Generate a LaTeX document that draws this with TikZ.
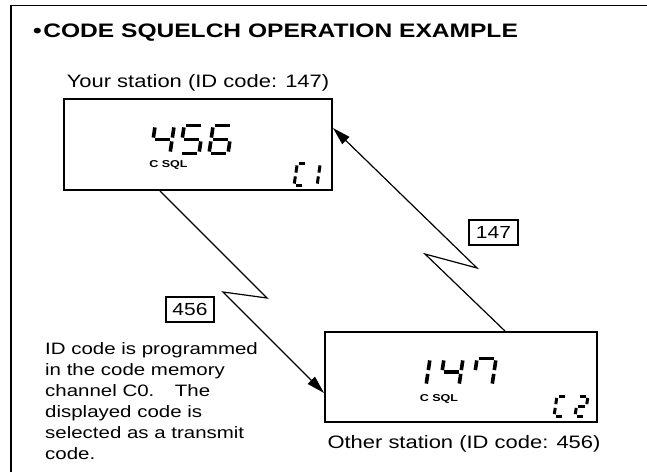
\documentclass[tikz,border=0pt]{standalone}
\usepackage{fontspec}
\setmainfont{Liberation Sans}
\usetikzlibrary{arrows.meta,calc}
\newcommand\wx[2]{\scalebox{#1}[1]{#2}}
% seven-segment LCD digits
\newcommand\lcdA{\draw[lcdseg] (\segG,-\segH) -- ({\segW-\segG},-\segH);}
\newcommand\lcdB{\draw[lcdseg] (\segW,{-\segH+\segG}) -- (\segW,{-\segH/2-\segG});}
\newcommand\lcdC{\draw[lcdseg] (\segW,{-\segH/2+\segG}) -- (\segW,-\segG);}
\newcommand\lcdD{\draw[lcdseg] (\segG,0) -- ({\segW-\segG},0);}
\newcommand\lcdE{\draw[lcdseg] (0,-\segG) -- (0,{-\segH/2+\segG});}
\newcommand\lcdF{\draw[lcdseg] (0,{-\segH/2-\segG}) -- (0,{-\segH+\segG});}
\newcommand\lcdG{\draw[lcdseg] (\segG,-\segH/2) -- ({\segW-\segG},-\segH/2);}
\newcommand\lcd[6]{%
  \begin{scope}[shift={(#1,#2)},xslant=0.15,lcdseg/.style={line width=#6pt,line cap=butt}]
    \def\segW{#3}\def\segH{#4}\def\segG{1.9}
    \foreach \s in {#5}{\csname lcd\s\endcsname}
  \end{scope}}
\begin{document}
\begin{tikzpicture}[x=1pt,y=-1pt,
  stbox/.style={draw,line width=1.9pt,inner sep=0pt},
  codebox/.style={draw,line width=1.2pt,inner sep=0pt,font=\fontsize{17.5}{20}\selectfont},
  conn/.style={line width=1.2pt,-{Triangle[length=18pt,width=10pt]},line join=miter},
  lbl/.style={inner sep=0pt,font=\fontsize{18}{21}\selectfont},
  csql/.style={inner sep=0pt,font=\bfseries\fontsize{10}{11}\selectfont},
  frame/.style={line width=1.5pt}]
\useasboundingbox (0,0) rectangle (647,472);
\draw[frame] (11,472) -- (11,5.5) -- (647,5.5);
% title
\node[anchor=base west,inner sep=0pt,font=\bfseries\fontsize{19.5}{22}\selectfont] (title) at (33,37)
  {\wx{1.26}{•\kern1.2pt CODE SQUELCH OPERATION EXAMPLE}};
% stations
\node[stbox,minimum width=268pt,minimum height=91pt] (box1) at (198,144.5) {};
\node[stbox,minimum width=272pt,minimum height=90pt] (box2) at (461,377) {};
\node[lbl,anchor=base] (your) at (198,87) {\wx{1.22}{Your station (ID code: 147)}};
\node[lbl,anchor=base] (other) at (464,448) {\wx{1.22}{Other station (ID code: 456)}};
% displays
\lcd{151}{153.5}{19}{28}{F,G,B,C}{3.6}
\lcd{180}{153.5}{19}{28}{A,F,G,C,D}{3.6}
\lcd{209}{153.5}{19}{28}{A,F,E,D,C,G}{3.6}
\lcd{294}{185.5}{10}{22}{A,F,E,D}{3}
\lcd{307}{185.5}{10}{22}{B,C}{3}
\node[csql] (csql1) at (168.5,165) {\wx{1.25}{C SQL}};
\lcd{407}{385.5}{19}{27}{B,C}{3.6}
\lcd{440}{385.5}{19}{27}{F,G,B,C}{3.6}
\lcd{473}{385.5}{19}{27}{A,F,B,C}{3.6}
\lcd{554}{416}{10}{20}{A,F,E,D}{3}
\lcd{575}{416}{10}{20}{A,B,G,E,D}{3}
\node[csql] (csql2) at (439,399) {\wx{1.25}{C SQL}};
% code labels
\node[codebox,minimum width=48pt,minimum height=25pt] (c456) at (190,309.5) {\wx{1.2}{456}};
\node[codebox,minimum width=49pt,minimum height=25pt] (c147) at (493.5,232.5) {\wx{1.2}{147}};
% connectors
\coordinate (z1a) at (267,298);
\coordinate (z1b) at (223,292);
\draw[conn] ([xshift=-38pt]box1.south) -- (z1a) -- (z1b) -- ([yshift=-16pt]box2.west);
\coordinate (z2a) at (425,254);
\coordinate (z2b) at (477,268);
\draw[conn] ([xshift=44pt]box2.north) -- (z2a) -- (z2b) -- ([yshift=16.5pt]box1.east);
% note
\node[anchor=base west,inner sep=0pt,font=\fontsize{16.5}{21}\selectfont] (note) at (45,354)
  {\wx{1.24}{\begin{tabular}[t]{@{}l@{}}ID code is programmed\\ in the code memory\\ channel C0.\hspace*{12pt} The\\ displayed code is\\ selected as a transmit\\ code.\end{tabular}}};
\end{tikzpicture}
\end{document}
